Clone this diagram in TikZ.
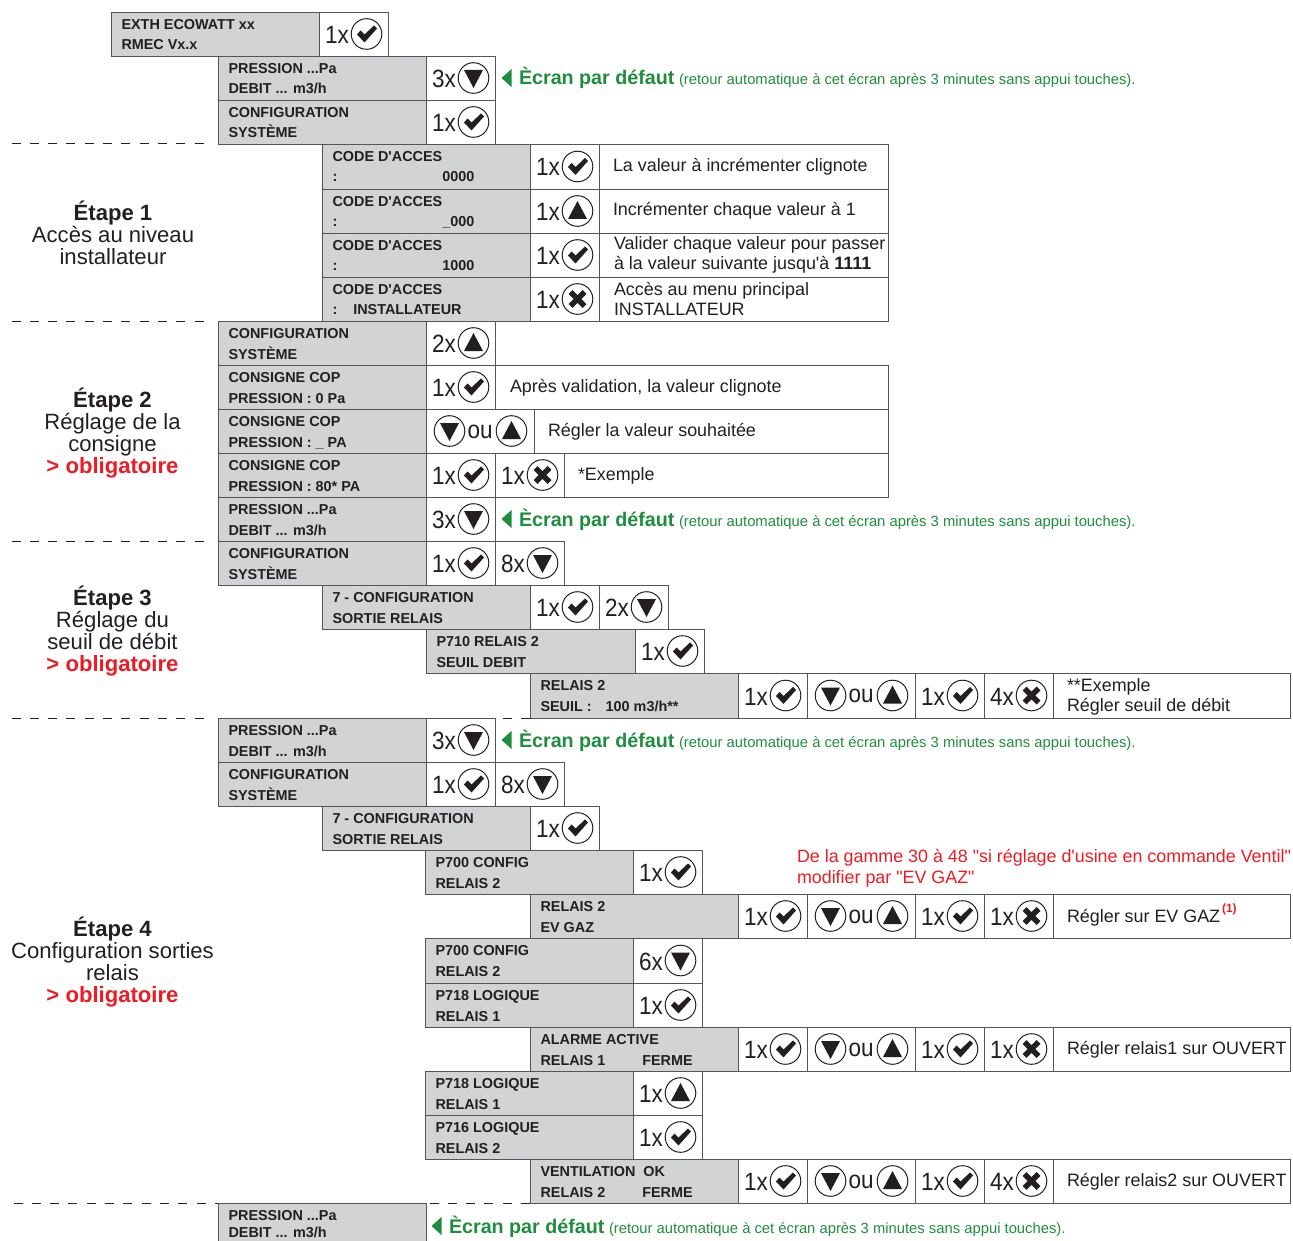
\documentclass[tikz,border=0pt]{standalone}
\usepackage{fontspec}
\newfontfamily\lsans{Liberation Sans}
\newfontfamily\numf[FakeStretch=0.9]{Liberation Sans}
\definecolor{ink}{HTML}{231F20}
\definecolor{edge}{HTML}{555555}
\definecolor{panel}{HTML}{D1D3D4}
\definecolor{okgreen}{HTML}{1E8E3E}
\definecolor{alert}{HTML}{ED1C24}
\newcount\nid
\tikzset{
  cellbox/.style={draw=edge,line width=0.9pt,fill=white},
  graybox/.style={draw=edge,line width=0.9pt,fill=panel},
  dashrule/.style={draw=ink,line width=0.9pt,dash pattern=on 9pt off 9.3pt},
  lab/.style={anchor=base west,inner sep=0pt,outer sep=0pt,text=ink,font=\lsans\bfseries\fontsize{14.4}{15}\selectfont},
  body/.style={anchor=base west,inner sep=0pt,outer sep=0pt,text=ink,font=\lsans\fontsize{17.9}{20}\selectfont},
  num/.style={anchor=base west,inner sep=0pt,outer sep=0pt,text=ink,font=\numf\fontsize{25}{26}\selectfont},
  stage/.style={anchor=base,inner sep=0pt,outer sep=0pt,text=ink,align=center,font=\lsans\fontsize{22.1}{22}\selectfont},
  hl/.style={anchor=base west,inner sep=0pt,outer sep=0pt,text=okgreen,font=\lsans\bfseries\fontsize{19.7}{20}\selectfont},
  hs/.style={anchor=base west,inner sep=0pt,outer sep=0pt,text=okgreen,font=\lsans\fontsize{14.8}{15}\selectfont},
  warn/.style={anchor=base west,inner sep=0pt,outer sep=0pt,text=alert,font=\lsans\fontsize{17.87}{18}\selectfont},
  refmark/.style={anchor=base west,inner sep=0pt,outer sep=0pt,text=alert,font=\lsans\bfseries\fontsize{12}{12}\selectfont},
}
\newcommand{\T}[4][lab]{\global\advance\nid by 1 \node[#1] (n\the\nid) at ({#2},{#3}) {#4};}
% icons
\newcommand{\ring}[2]{\draw[ink,line width=1pt,fill=white] ({#1},{#2}) circle (15.3);}
\newcommand{\icheck}[2]{\ring{#1}{#2}\fill[ink] ({#1-9.5},{#2+0.5}) -- ({#1-6},{#2-3.5}) -- ({#1-2},{#2+0.5}) -- ({#1+7.5},{#2-8.5}) -- ({#1+10.5},{#2-5.5}) -- ({#1-2},{#2+8.5}) -- cycle;}
\newcommand{\idown}[2]{\ring{#1}{#2}\fill[ink] ({#1-9.5},{#2-8}) -- ({#1+9.5},{#2-8}) -- ({#1},{#2+10}) -- cycle;}
\newcommand{\iup}[2]{\ring{#1}{#2}\fill[ink] ({#1-9.5},{#2+8}) -- ({#1+9.5},{#2+8}) -- ({#1},{#2-10}) -- cycle;}
\newcommand{\icross}[2]{\ring{#1}{#2}\draw[ink,line width=5.5pt] ({#1-7},{#2-7}) -- ({#1+7},{#2+7}) ({#1-7},{#2+7}) -- ({#1+7},{#2-7});}
% gray row: x1 x2 y1 y2 line1 line2
\newcommand{\G}[6]{\filldraw[graybox] (#1,#3) rectangle (#2,#4);\T{#1+10}{#3+17.5}{#5}\T{#1+10}{#3+38}{#6}}
% number cell: x y1 y2 number icon
\newcommand{\C}[5]{\filldraw[cellbox] (#1,#2) rectangle ({#1+69},#3);\T[num]{#1+5.5}{(#2+#3)/2+9.5}{#4}\csname i#5\endcsname{#1+47}{(#2+#3)/2}}
% choice cell: x1 x2 y1 y2
\newcommand{\Q}[4]{\filldraw[cellbox] (#1,#3) rectangle (#2,#4);\idown{#1+23}{(#3+#4)/2}\iup{#2-23}{(#3+#4)/2}\T[num]{#1+41}{(#3+#4)/2+7}{ou}}
% text cell: x1 x2 y1 y2
\newcommand{\W}[4]{\filldraw[cellbox] (#1,#3) rectangle (#2,#4);}
% default-screen note: x baseline
\newcommand{\D}[2]{\fill[okgreen] ({#1},{#2-7}) -- ({#1+10},{#2-16}) -- ({#1+10},{#2+2}) -- cycle;\T[hl]{#1+17.5}{#2}{Ècran par défaut}\T[hs]{#1+177.5}{#2}{(retour automatique à cet écran après 3 minutes sans appui touches).}}
\begin{document}
\begin{tikzpicture}[x=1pt,y=-1pt]
\useasboundingbox (0,0) rectangle (1293,1241);
\begin{scope}[xshift=-0.5pt]
% dashes
\path[dashrule] (12,143.5) -- (205,143.5);
\path[dashrule] (12,321) -- (205,321);
\path[dashrule] (12,541) -- (205,541);
\path[dashrule] (12,718) -- (205,718);
\path[dashrule] (503,718) -- (531,718);
\path[dashrule] (14,1203.5) -- (219,1203.5);
\path[dashrule] (430,1203.5) -- (531,1203.5);
% intro
\G{112}{320}{12}{56}{EXTH ECOWATT xx}{RMEC Vx.x}\C{320}{12}{56}{1x}{check}
\G{219}{427}{56}{100}{PRESSION ...Pa}{DEBIT ... m3/h}\C{427}{56}{100}{3x}{down}\D{502}{85}
\G{219}{427}{100}{144}{CONFIGURATION}{SYSTÈME}\C{427}{100}{144}{1x}{check}
% step 1
\G{323}{531}{144}{189}{CODE D'ACCES}{:\hspace{105pt}0000}\C{531}{144}{189}{1x}{check}\W{600}{889}{144}{189}\T[body]{613.5}{172}{La valeur à incrémenter clignote}
\G{323}{531}{189}{233}{CODE D'ACCES}{:\hspace{105pt}\_000}\C{531}{189}{233}{1x}{up}\W{600}{889}{189}{233}\T[body]{613.5}{216}{Incrémenter chaque valeur à 1}
\G{323}{531}{233}{277}{CODE D'ACCES}{:\hspace{105pt}1000}\C{531}{233}{277}{1x}{check}\W{600}{889}{233}{277}\T[body]{614.5}{250}{Valider chaque valeur pour passer}\T[body]{614.5}{270}{à la valeur suivante jusqu'à \textbf{1111}}
\G{323}{531}{277}{321}{CODE D'ACCES}{:\hspace{16pt}INSTALLATEUR}\C{531}{277}{321}{1x}{cross}\W{600}{889}{277}{321}\T[body]{614.5}{295.5}{Accès au menu principal}\T[body]{614.5}{315.5}{INSTALLATEUR}
% step 2
\G{219}{427}{321}{365}{CONFIGURATION}{SYSTÈME}\C{427}{321}{365}{2x}{up}
\G{219}{427}{365}{409}{CONSIGNE COP}{PRESSION : 0 Pa}\C{427}{365}{409}{1x}{check}\W{496}{889}{365}{409}\T[body]{510.5}{392}{Après validation, la valeur clignote}
\G{219}{427}{409}{453}{CONSIGNE COP}{PRESSION : \_ PA}\Q{427}{535}{409}{453}\W{535}{889}{409}{453}\T[body]{548.5}{436}{Régler la valeur souhaitée}
\G{219}{427}{453}{497}{CONSIGNE COP}{PRESSION : 80* PA}\C{427}{453}{497}{1x}{check}\C{496}{453}{497}{1x}{cross}\W{565}{889}{453}{497}\T[body]{578.5}{480}{*Exemple}
\G{219}{427}{497}{541}{PRESSION ...Pa}{DEBIT ... m3/h}\C{427}{497}{541}{3x}{down}\D{502}{526}
% step 3
\G{219}{427}{541}{585}{CONFIGURATION}{SYSTÈME}\C{427}{541}{585}{1x}{check}\C{496}{541}{585}{8x}{down}
\G{323}{531}{585}{629}{7 - CONFIGURATION}{SORTIE RELAIS}\C{531}{585}{629}{1x}{check}\C{600}{585}{629}{2x}{down}
\G{427}{636}{629}{673}{P710 RELAIS 2}{SEUIL DEBIT}\C{636}{629}{673}{1x}{check}
\G{531}{739}{673}{718}{RELAIS 2}{SEUIL :\hspace{14pt}100 m3/h**}\C{739}{673}{718}{1x}{check}\Q{808}{916}{673}{718}\C{916}{673}{718}{1x}{check}\C{985}{673}{718}{4x}{cross}\W{1054}{1291}{673}{718}\T[body]{1067.5}{691}{**Exemple}\T[body]{1067.5}{711}{Régler seuil de débit}
% step 4
\G{219}{427}{718}{762}{PRESSION ...Pa}{DEBIT ... m3/h}\C{427}{718}{762}{3x}{down}\D{502}{747}
\G{219}{427}{762}{806}{CONFIGURATION}{SYSTÈME}\C{427}{762}{806}{1x}{check}\C{496}{762}{806}{8x}{down}
\G{323}{531}{806}{850}{7 - CONFIGURATION}{SORTIE RELAIS}\C{531}{806}{850}{1x}{check}
\G{426}{634}{850}{894}{P700 CONFIG}{RELAIS 2}\C{634}{850}{894}{1x}{check}
\G{531}{739}{894}{938}{RELAIS 2}{EV GAZ}\C{739}{894}{938}{1x}{check}\Q{808}{916}{894}{938}\C{916}{894}{938}{1x}{check}\C{985}{894}{938}{1x}{cross}\W{1054}{1291}{894}{938}\T[body]{1067.5}{922}{Régler sur EV GAZ}\T[refmark]{1222.5}{912}{(1)}
\G{426}{634}{938}{983}{P700 CONFIG}{RELAIS 2}\C{634}{938}{983}{6x}{down}
\G{426}{634}{983}{1027}{P718 LOGIQUE}{RELAIS 1}\C{634}{983}{1027}{1x}{check}
\G{531}{739}{1027}{1071}{ALARME ACTIVE}{RELAIS 1\hspace{37pt}FERME}\C{739}{1027}{1071}{1x}{check}\Q{808}{916}{1027}{1071}\C{916}{1027}{1071}{1x}{check}\C{985}{1027}{1071}{1x}{cross}\W{1054}{1291}{1027}{1071}\T[body]{1067.5}{1054}{Régler relais1 sur OUVERT}
\G{426}{634}{1071}{1115}{P718 LOGIQUE}{RELAIS 1}\C{634}{1071}{1115}{1x}{up}
\G{426}{634}{1115}{1159}{P716 LOGIQUE}{RELAIS 2}\C{634}{1115}{1159}{1x}{check}
\G{531}{739}{1159}{1203}{VENTILATION\hspace{8pt}OK}{RELAIS 2\hspace{37pt}FERME}\C{739}{1159}{1203}{1x}{check}\Q{808}{916}{1159}{1203}\C{916}{1159}{1203}{1x}{check}\C{985}{1159}{1203}{4x}{cross}\W{1054}{1291}{1159}{1203}\T[body]{1067.5}{1186}{Régler relais2 sur OUVERT}
% last row, open at the bottom edge
\filldraw[graybox] (219,1203) rectangle (427,1250);\T{229}{1220.5}{PRESSION ...Pa}\T{229}{1237.7}{DEBIT ... m3/h}\D{432}{1233}
% red note
\T[warn]{797.5}{862}{De la gamme 30 à 48 "si réglage d'usine en commande Ventil"}
\T[warn]{797.5}{883}{modifier par "EV GAZ"}
% stages
\T[stage]{113.5}{265}{\textbf{Étape 1}\\Accès au niveau\\installateur}
\T[stage]{113}{473}{\textbf{Étape 2}\\Réglage de la\\consigne\\\textcolor{alert}{\textbf{> obligatoire}}}
\T[stage]{113}{671}{\textbf{Étape 3}\\Réglage du\\seuil de débit\\\textcolor{alert}{\textbf{> obligatoire}}}
\T[stage]{113}{1002}{\textbf{Étape 4}\\Configuration sorties\\relais\\\textcolor{alert}{\textbf{> obligatoire}}}
\end{scope}
\end{tikzpicture}
\end{document}
